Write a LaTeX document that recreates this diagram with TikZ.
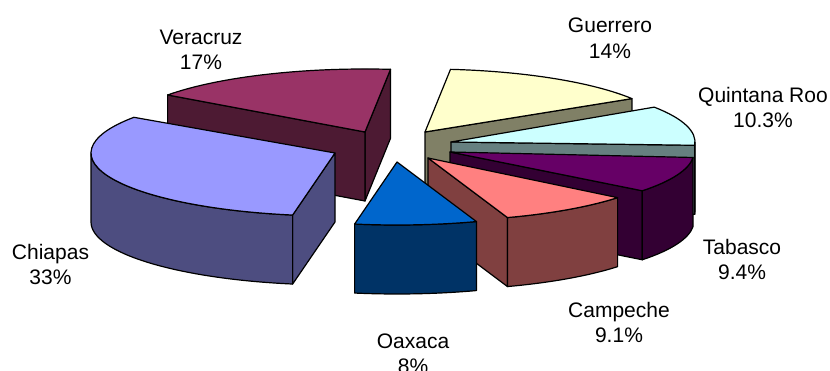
\documentclass[tikz,border=0pt]{standalone}
\usepackage{fontspec}
\setmainfont{Liberation Sans}
\definecolor{chtop}{HTML}{9999FF}\definecolor{chside}{HTML}{4D4D80}
\definecolor{vetop}{HTML}{993366}\definecolor{veside}{HTML}{4D1A33}
\definecolor{gutop}{HTML}{FFFFCC}\definecolor{guside}{HTML}{808066}
\definecolor{qrtop}{HTML}{CCFFFF}\definecolor{qrside}{HTML}{668080}
\definecolor{tatop}{HTML}{660066}\definecolor{taside}{HTML}{330033}
\definecolor{catop}{HTML}{FF8080}\definecolor{caside}{HTML}{804040}
\definecolor{oatop}{HTML}{0066CC}\definecolor{oaside}{HTML}{003366}
\newcommand\pieRx{244}
\newcommand\pieRy{63}
\newcommand\pieH{69}
\newcommand\radface[4]{\filldraw[pieedge,fill=#4] (#1,#2) -- ({#1+\pieRx*cos(#3)},{#2+\pieRy*sin(#3)}) -- ({#1+\pieRx*cos(#3)},{#2+\pieRy*sin(#3)-\pieH}) -- (#1,{#2-\pieH}) -- cycle;}
\newcommand\curvface[5]{\filldraw[pieedge,fill=#5] ({#1+\pieRx*cos(#3)},{#2+\pieRy*sin(#3)}) arc[start angle=#3,end angle=#4,x radius=\pieRx,y radius=\pieRy] -- ++(0,-\pieH) arc[start angle=#4,end angle=#3,x radius=\pieRx,y radius=\pieRy] -- cycle;}
\newcommand\topface[5]{\filldraw[pieedge,fill=#5] (#1,#2) -- ({#1+\pieRx*cos(#3)},{#2+\pieRy*sin(#3)}) arc[start angle=#3,end angle=#4,x radius=\pieRx,y radius=\pieRy] -- cycle;}
\begin{document}
\begin{tikzpicture}[x=1pt,y=1pt,
  pieedge/.style={draw=black,line width=1.2pt,line join=round},
  lbl/.style={font=\fontsize{21}{25.5}\selectfont,align=center,inner sep=0pt,anchor=base}]
\useasboundingbox (0,0) rectangle (830,371);
% Veracruz
\radface{365}{239}{84}{veside}
\radface{365}{239}{144}{veside}
\topface{365}{239}{84}{144}{vetop}
% Guerrero
\radface{425}{239}{32}{guside}
\topface{425}{239}{32}{84}{gutop}
% Quintana Roo
\radface{451}{229}{-3}{qrside}
\curvface{451}{229}{-3}{0}{qrside}
\topface{451}{229}{-3}{33.6}{qrtop}
% Tabasco
\radface{450}{219}{-38}{taside}
\curvface{450}{219}{-38}{-5}{taside}
\topface{450}{219}{-38}{-5}{tatop}
% Campeche
\radface{428}{213}{-71}{caside}
\curvface{428}{213}{-71}{-39}{caside}
\topface{428}{213}{-71}{-39}{catop}
% Chiapas
\radface{335}{218}{260}{chside}
\curvface{335}{218}{180}{260}{chside}
\topface{335}{218}{145.5}{260}{chtop}
% Oaxaca
\curvface{397}{209}{260}{289}{oaside}
\topface{397}{209}{260}{289}{oatop}
% labels (anchor = baseline of the last line)
\node[lbl] (lch) at (50.5,86) {Chiapas\\33\%};
\node[lbl] (lve) at (201,301) {Veracruz\\17\%};
\node[lbl] (lgu) at (610,312.7) {Guerrero\\14\%};
\node[lbl] (lqr) at (763,243) {Quintana Roo\\10.3\%};
\node[lbl] (lta) at (742,91) {Tabasco\\9.4\%};
\node[lbl] (lca) at (619,28) {Campeche\\9.1\%};
\node[lbl] (loa) at (413,-3) {Oaxaca\\8\%};
\end{tikzpicture}
\end{document}
